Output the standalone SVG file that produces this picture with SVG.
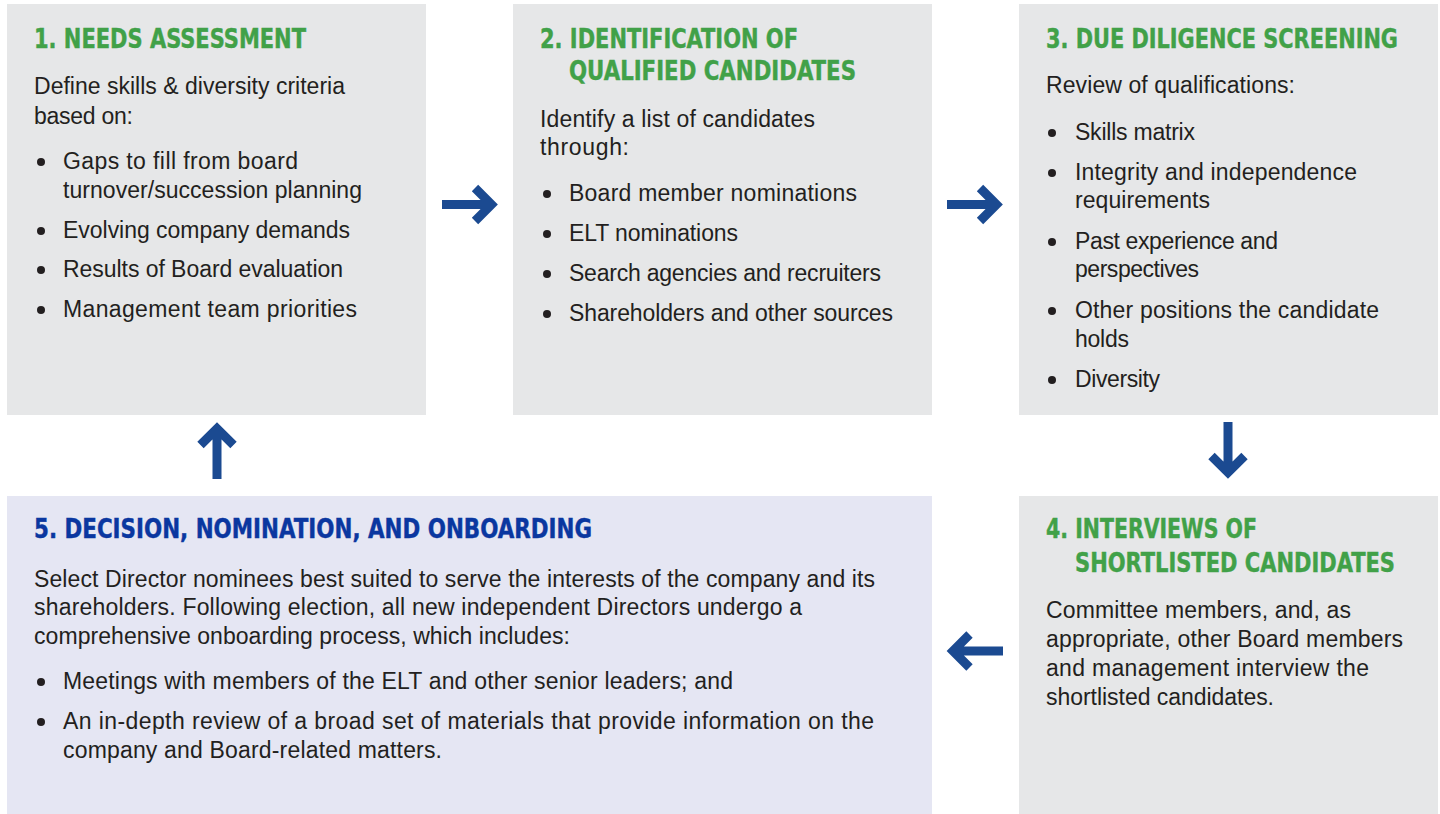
<svg xmlns="http://www.w3.org/2000/svg" width="1440" height="814" viewBox="0 0 1440 814">
<style>
.box{fill:#e6e7e8}
.box5{fill:#e5e6f3}
.hd{font-family:"Liberation Sans Narrow","DejaVu Sans Condensed","Liberation Sans",sans-serif;font-weight:bold;font-size:26px;fill:#41a148;stroke:#41a148;stroke-width:0.4}
.hd5{fill:#0a37a0;stroke:#0a37a0}
.tx{font-family:"Liberation Sans",Arial,sans-serif;font-size:23px;fill:#231f20}
.dot{fill:#231f20}
.arr{fill:none;stroke:#1b4a91;stroke-width:9;stroke-linecap:butt;stroke-linejoin:miter}
</style>
<rect width="1440" height="814" fill="#ffffff"/>
<g id="node-1">
<rect class="box" x="7" y="4" width="419" height="411"/>
<text class="hd" x="34" y="48" textLength="272" lengthAdjust="spacingAndGlyphs">1. NEEDS ASSESSMENT</text>
<text class="tx" x="34" y="94" textLength="311">Define skills &amp; diversity criteria</text>
<text class="tx" x="34" y="124" textLength="99">based on:</text>
<circle class="dot" cx="41" cy="162" r="4"/>
<text class="tx" x="63" y="169" textLength="235">Gaps to fill from board</text>
<text class="tx" x="63" y="198" textLength="299">turnover/succession planning</text>
<circle class="dot" cx="41" cy="231" r="4"/>
<text class="tx" x="63" y="238" textLength="287">Evolving company demands</text>
<circle class="dot" cx="41" cy="270" r="4"/>
<text class="tx" x="63" y="277" textLength="280">Results of Board evaluation</text>
<circle class="dot" cx="41" cy="310" r="4"/>
<text class="tx" x="63" y="317" textLength="294">Management team priorities</text>
</g>
<g id="node-2">
<rect class="box" x="513" y="4" width="419" height="411"/>
<text class="hd" x="540" y="48" textLength="258" lengthAdjust="spacingAndGlyphs">2. IDENTIFICATION OF</text>
<text class="hd" x="569" y="80" textLength="287" lengthAdjust="spacingAndGlyphs">QUALIFIED CANDIDATES</text>
<text class="tx" x="540" y="127" textLength="275">Identify a list of candidates</text>
<text class="tx" x="540" y="155" textLength="89">through:</text>
<circle class="dot" cx="547" cy="194" r="4"/>
<text class="tx" x="569" y="201" textLength="288">Board member nominations</text>
<circle class="dot" cx="547" cy="234" r="4"/>
<text class="tx" x="569" y="241" textLength="169">ELT nominations</text>
<circle class="dot" cx="547" cy="274" r="4"/>
<text class="tx" x="569" y="281" textLength="312">Search agencies and recruiters</text>
<circle class="dot" cx="547" cy="314" r="4"/>
<text class="tx" x="569" y="321" textLength="324">Shareholders and other sources</text>
</g>
<g id="node-3">
<rect class="box" x="1019" y="4" width="419" height="411"/>
<text class="hd" x="1046" y="48" textLength="352" lengthAdjust="spacingAndGlyphs">3. DUE DILIGENCE SCREENING</text>
<text class="tx" x="1046" y="93" textLength="249">Review of qualifications:</text>
<circle class="dot" cx="1052" cy="133" r="4"/>
<text class="tx" x="1075" y="140" textLength="120">Skills matrix</text>
<circle class="dot" cx="1052" cy="173" r="4"/>
<text class="tx" x="1075" y="180" textLength="282">Integrity and independence</text>
<text class="tx" x="1075" y="208" textLength="135">requirements</text>
<circle class="dot" cx="1052" cy="242" r="4"/>
<text class="tx" x="1075" y="249" textLength="203">Past experience and</text>
<text class="tx" x="1075" y="277" textLength="124">perspectives</text>
<circle class="dot" cx="1052" cy="311" r="4"/>
<text class="tx" x="1075" y="318" textLength="304">Other positions the candidate</text>
<text class="tx" x="1075" y="347" textLength="54">holds</text>
<circle class="dot" cx="1052" cy="380" r="4"/>
<text class="tx" x="1075" y="387" textLength="85">Diversity</text>
</g>
<g id="node-4">
<rect class="box" x="1019" y="496" width="419" height="318"/>
<text class="hd" x="1046" y="538" textLength="211" lengthAdjust="spacingAndGlyphs">4. INTERVIEWS OF</text>
<text class="hd" x="1075" y="572" textLength="320" lengthAdjust="spacingAndGlyphs">SHORTLISTED CANDIDATES</text>
<text class="tx" x="1046" y="618" textLength="305">Committee members, and, as</text>
<text class="tx" x="1046" y="647" textLength="357">appropriate, other Board members</text>
<text class="tx" x="1046" y="676" textLength="323">and management interview the</text>
<text class="tx" x="1046" y="705" textLength="228">shortlisted candidates.</text>
</g>
<g id="node-5">
<rect class="box5" x="7" y="496" width="925" height="318"/>
<text class="hd hd5" x="34" y="538" textLength="558" lengthAdjust="spacingAndGlyphs">5. DECISION, NOMINATION, AND ONBOARDING</text>
<text class="tx" x="34" y="587" textLength="841">Select Director nominees best suited to serve the interests of the company and its</text>
<text class="tx" x="34" y="615" textLength="768">shareholders. Following election, all new independent Directors undergo a</text>
<text class="tx" x="34" y="644" textLength="536">comprehensive onboarding process, which includes:</text>
<circle class="dot" cx="41" cy="682" r="4"/>
<text class="tx" x="63" y="689" textLength="670">Meetings with members of the ELT and other senior leaders; and</text>
<circle class="dot" cx="41" cy="722" r="4"/>
<text class="tx" x="63" y="729" textLength="811">An in-depth review of a broad set of materials that provide information on the</text>
<text class="tx" x="63" y="758" textLength="379">company and Board-related matters.</text>
</g>
<g id="connectors">
<path class="arr" d="M442 204.5H490M475 188L491.5 204.5L475 221"/>
<path class="arr" d="M947 204.5H995M980 188L996.5 204.5L980 221"/>
<path class="arr" d="M1228 422V471M1211.5 456L1228 472.5L1244.5 456"/>
<path class="arr" d="M1003 651H955M969.5 634.5L953 651L969.5 667.5"/>
<path class="arr" d="M217 479V430M200.5 445L217 428.5L233.5 445"/>
</g>
</svg>
